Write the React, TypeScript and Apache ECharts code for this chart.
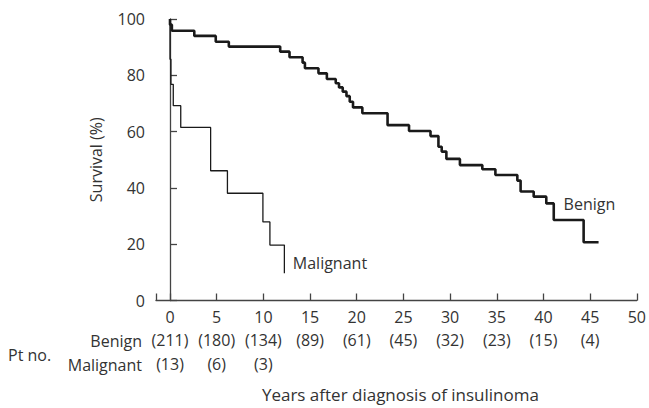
import React, { useEffect, useRef } from "react";
import * as echarts from "echarts";

// Kaplan-Meier step points (years, survival %)
const benignTimes = [0, 0, 0.2, 2.6, 4.9, 6.3, 11.8, 12.8, 14.2, 14.45, 15.9, 16.8, 17.75, 18.1, 18.5, 18.9, 19.25, 19.6, 20.6, 23.3, 25.6, 27.9, 28.75, 29.1, 29.6, 31.05, 33.45, 34.85, 37.2, 37.55, 38.95, 40.3, 41.1, 44.3, 45.9];
const benignSurvival = [100, 98, 95.8, 94.0, 91.9, 90.2, 88.4, 86.4, 84.5, 82.5, 80.7, 78.7, 77.2, 75.7, 74.2, 72.6, 70.6, 68.6, 66.5, 62.3, 60.2, 58.4, 54.6, 52.9, 50.3, 48.1, 46.6, 44.6, 42.6, 38.7, 36.9, 34.5, 28.6, 20.7, 20.7];

const malignantTimes = [0, 0, 0.1, 0.35, 1.15, 4.35, 6.15, 9.95, 10.7, 12.25];
const malignantSurvival = [100, 85.7, 76.8, 69.2, 61.5, 46.1, 38.1, 27.9, 19.7, 9.7];

// Patients at risk at 0, 5, 10, ... years
const riskYears = [0, 5, 10, 15, 20, 25, 30, 35, 40, 45];
const benignAtRisk = [211, 180, 134, 89, 61, 45, 32, 23, 15, 4];
const malignantAtRisk = [13, 6, 3];

const xTickLabels = ["0", "5", "10", "15", "20", "25", "30", "35", "40", "45", "50"];
const yTickLabels = ["0", "20", "40", "60", "80", "100"];

const FONT = "Open Sans";
const TXT = "#333";
const AX = "#444";

export default function App() {
  const ref = useRef<HTMLDivElement>(null);
  useEffect(() => {
    if (!ref.current) return;
    const chart = echarts.init(ref.current, undefined, { renderer: "svg" });
    const xLabel = (v: number) => {
      const i = xTickLabels.indexOf(String(v));
      return i >= 0 ? xTickLabels[i] : "";
    };
    const riskLabel = (arr: number[]) => (v: number) => {
      const i = riskYears.indexOf(v);
      return i >= 0 && i < arr.length ? `(${arr[i]})` : "";
    };
    const baseX = {
      type: "value",
      min: -1.5,
      max: 50,
      minInterval: 5,
      maxInterval: 5,
      splitNumber: 10,
      position: "bottom",
      splitLine: { show: false },
    };
    chart.setOption({
      animation: false,
      textStyle: { fontFamily: FONT },
      grid: { left: 156, right: 10, top: 19, bottom: 107.5, containLabel: false },
      xAxis: [
        {
          ...baseX,
          axisLine: { show: true, lineStyle: { color: AX, width: 1.3 } },
          axisTick: { show: true, inside: true, length: 7, lineStyle: { color: AX, width: 1.3 } },
          axisLabel: { formatter: xLabel, fontSize: 16, color: TXT, fontFamily: FONT, margin: 8 },
          name: "Years after diagnosis of insulinoma",
          nameLocation: "middle",
          nameGap: 85,
          nameTextStyle: { fontSize: 17, color: TXT, fontFamily: FONT, padding: [0, 0, 0, 8] },
        },
        {
          ...baseX,
          offset: 23.5,
          axisLine: { show: false },
          axisTick: { show: false },
          axisLabel: { formatter: riskLabel(benignAtRisk), fontSize: 16, color: TXT, fontFamily: FONT, margin: 8 },
        },
        {
          ...baseX,
          offset: 47.5,
          axisLine: { show: false },
          axisTick: { show: false },
          axisLabel: { formatter: riskLabel(malignantAtRisk), fontSize: 16, color: TXT, fontFamily: FONT, margin: 8 },
        },
      ],
      yAxis: {
        type: "value",
        min: 0,
        max: 100,
        interval: 20,
        axisLine: { show: true, lineStyle: { color: AX, width: 1.3 } },
        axisTick: { show: true, inside: true, length: 7, lineStyle: { color: AX, width: 1.3 } },
        axisLabel: {
          fontSize: 16,
          color: TXT,
          fontFamily: FONT,
          margin: 11,
          formatter: (v: number) => (yTickLabels.includes(String(v)) ? String(v) : ""),
        },
        splitLine: { show: false },
        name: "Survival (%)",
        nameLocation: "middle",
        nameGap: 52,
        nameTextStyle: { fontSize: 16, color: TXT, fontFamily: FONT },
      },
      series: [
        {
          name: "Benign",
          type: "line",
          xAxisIndex: 0,
          step: "end",
          showSymbol: false,
          symbol: "none",
          data: benignTimes.map((t, i) => [t, benignSurvival[i]]),
          lineStyle: { color: "#1a1a1a", width: 2.6 },
          markPoint: {
            symbol: "circle",
            symbolSize: 1,
            itemStyle: { color: "rgba(0,0,0,0)" },
            label: { show: true, position: "right", distance: 0, formatter: "Benign", fontSize: 16, color: TXT, fontFamily: FONT },
            data: [{ coord: [42.1, 34.3] }],
          },
        },
        {
          name: "Malignant",
          type: "line",
          xAxisIndex: 0,
          step: "end",
          showSymbol: false,
          symbol: "none",
          data: malignantTimes.map((t, i) => [t, malignantSurvival[i]]),
          lineStyle: { color: "#1a1a1a", width: 1.3 },
          markPoint: {
            symbol: "circle",
            symbolSize: 1,
            itemStyle: { color: "rgba(0,0,0,0)" },
            label: { show: true, position: "right", distance: 0, formatter: "Malignant", fontSize: 16, color: TXT, fontFamily: FONT },
            data: [{ coord: [13.1, 13.3] }],
          },
        },
      ],
      graphic: [
        { type: "text", x: 8, y: 355, style: { text: "Pt no.", fontSize: 16, fontFamily: FONT, fill: TXT, align: "left", verticalAlign: "middle" } },
        { type: "text", x: 142, y: 341, style: { text: "Benign", fontSize: 16, fontFamily: FONT, fill: TXT, align: "right", verticalAlign: "middle" } },
        { type: "text", x: 142, y: 365, style: { text: "Malignant", fontSize: 16, fontFamily: FONT, fill: TXT, align: "right", verticalAlign: "middle" } },
      ],
    });
    return () => chart.dispose();
  }, []);
  return <div ref={ref} style={{ position: "absolute", left: 0, top: 0, width: 649, height: 408 }} />;
}
